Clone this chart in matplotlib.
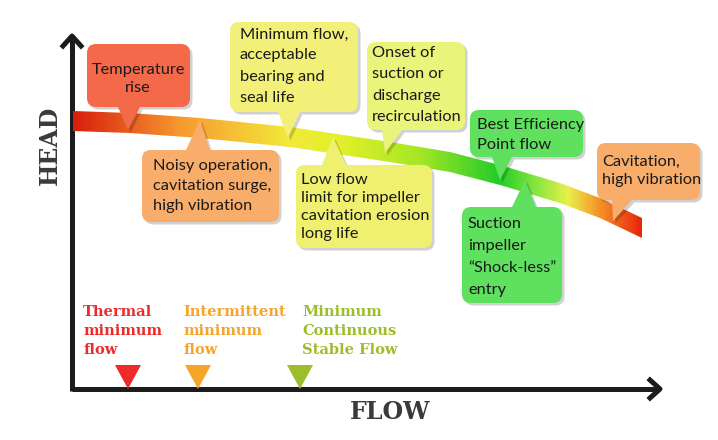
import numpy as np
import matplotlib.pyplot as plt
from matplotlib.patches import FancyBboxPatch, Polygon
from matplotlib.colors import LinearSegmentedColormap

# head-flow curve (pixel space of the 718x440 picture, y down)
curve_x = [73, 130, 200, 290, 390, 450, 500, 560, 600, 642]
curve_y = [121, 123, 128, 137, 152, 162, 175, 193, 208, 228]
band_half = 10

# gradient along the curve: x position -> colour
grad_x = [73, 180, 290, 340, 420, 500, 540, 570, 600, 642]
grad_c = ["#d8200c", "#f79a30", "#f2ea3a", "#e2f02a", "#a6e626", "#22cc2a",
          "#8ee840", "#eaf04a", "#f5962a", "#e8280e"]

# callouts
labels = ["Temperature\nrise",
          "Noisy operation,\ncavitation surge,\nhigh vibration",
          "Minimum flow,\nacceptable\nbearing and\nseal life",
          "Onset of\nsuction or\ndischarge\nrecirculation",
          "Low flow\nlimit for impeller\ncavitation erosion\nlong life",
          "Best Efficiency\nPoint flow",
          "Suction\nimpeller\n\u201cShock-less\u201d\nentry",
          "Cavitation,\nhigh vibration"]
box_colors = ["#f4694a", "#f8ad6a", "#f3f07a", "#e8f47a", "#f0f070",
              "#5fe05f", "#5fe05f", "#f8ad6a"]
# box: left, top, right, bottom
boxes = [(87, 44, 190, 107), (142, 150, 279, 222), (230, 22, 358, 112),
         (367, 42, 465, 130), (296, 165, 432, 248), (470, 110, 583, 157),
         (462, 207, 562, 303), (597, 143, 700, 200)]
tips = [(128, 130), (200, 120), (288, 138), (385, 153), (333, 137),
        (500, 180), (525, 180), (613, 221)]
# pointer base x range on box edge
bases = [(118, 140), (186, 210), (278, 300), (382, 402), (322, 346),
         (492, 512), (512, 536), (612, 632)]
text_x = [138, 153, 240, 372, 301, 477, 468, 602]
text_y = [79, 186, 66, 85, 207, 135, 257, 171]
text_ha = ["center", "left", "left", "left", "left", "left", "left", "left"]
text_ls = [1.42, 1.53, 1.64, 1.64, 1.37, 1.55, 1.7, 1.4]

# minimum flow markers
flow_labels = ["Thermal\nminimum\nflow", "Intermittent\nminimum\nflow",
               "Minimum\nContinuous\nStable Flow"]
flow_label_x = [83, 183, 302]
flow_marker_x = [128, 198, 300]
flow_colors = ["#ee2b2b", "#f7a52a", "#9ebd2a"]

W, H = 718, 440
fig = plt.figure(figsize=(W / 100, H / 100), dpi=100)
ax = fig.add_axes([0, 0, 1, 1])
ax.set_xlim(0, W)
ax.set_ylim(H, 0)
ax.axis("off")

ink = "#1c1c1c"
ox, oy = 72, 389
# axes with chevron arrow heads
ax.plot([ox, ox], [oy + 2, 38], color=ink, lw=3.6, solid_capstyle="butt")
ax.plot([ox, 658], [oy, oy], color=ink, lw=3.6, solid_capstyle="butt")
ax.plot([63, 72, 81], [46, 36, 46], color=ink, lw=3.6)
ax.plot([650, 660, 650], [380, 389, 398], color=ink, lw=3.6)

ax.text(50, 145, "HEAD", rotation=90, ha="center", va="center",
        fontsize=17, fontweight="bold", family="DejaVu Serif", color="#3a3a3a")
ax.text(390, 412, "FLOW", ha="center", va="center",
        fontsize=17, fontweight="bold", family="DejaVu Serif", color="#3a3a3a")

# gradient band
cx = np.array(curve_x, float)
cy = np.array(curve_y, float)
band = np.vstack([np.column_stack([cx, cy - band_half]),
                  np.column_stack([cx[::-1], cy[::-1] + band_half])])
band_poly = Polygon(band, closed=True, facecolor="none", edgecolor="none")
ax.add_patch(band_poly)
stops = [(x - grad_x[0]) / (grad_x[-1] - grad_x[0]) for x in grad_x]
cmap = LinearSegmentedColormap.from_list("flow", list(zip(stops, grad_c)))
img = ax.imshow(np.linspace(0, 1, 300)[None, :], cmap=cmap, aspect="auto",
                extent=(grad_x[0], grad_x[-1], 250, 100), zorder=2,
                interpolation="bilinear")
img.set_clip_path(band_poly)
ax.set_xlim(0, W)
ax.set_ylim(H, 0)


def callout(box, tip, base, color):
    l, t, r, b = box
    pointer_y = b if tip[1] > b else t
    for dx, fc, al, z in [(2.5, "#000000", 0.18, 3), (0, color, 1, 4)]:
        ax.add_patch(FancyBboxPatch((l + dx, t + dx), r - l, b - t,
                                    boxstyle="round,pad=0,rounding_size=9",
                                    facecolor=fc, edgecolor="none", alpha=al,
                                    zorder=z))
        ax.add_patch(Polygon([(base[0] + dx, pointer_y + dx),
                              (base[1] + dx, pointer_y + dx),
                              (tip[0] + dx, tip[1] + dx)], closed=True,
                             facecolor=fc, edgecolor="none", alpha=al, zorder=z))


for i, lab in enumerate(labels):
    callout(boxes[i], tips[i], bases[i], box_colors[i])
    ax.text(text_x[i], text_y[i], lab, ha=text_ha[i], va="center",
            multialignment=text_ha[i], fontsize=11.8, family="Lato",
            color="#1a1a1a", linespacing=text_ls[i], zorder=6)

for lab, x, mx, c in zip(flow_labels, flow_label_x, flow_marker_x, flow_colors):
    ax.text(x, 331, lab, ha="left", va="center", fontsize=10.5,
            fontweight="bold", family="DejaVu Serif", color=c, linespacing=1.45)
    ax.add_patch(Polygon([(mx - 13, 365), (mx + 13, 365), (mx, 389)],
                         closed=True, facecolor=c, edgecolor="none", zorder=5))

fig.savefig("out.png", dpi=100)
